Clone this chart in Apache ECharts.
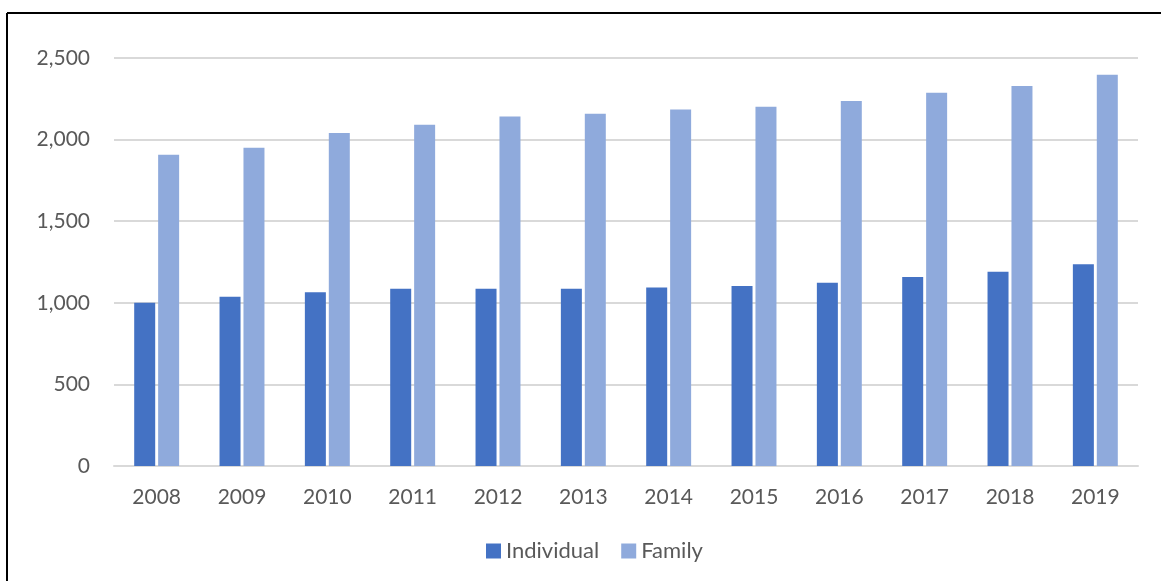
<!DOCTYPE html>
<html>
<head>
<meta charset="utf-8">
<script src="https://cdn.jsdelivr.net/npm/echarts@6/dist/echarts.min.js"></script>
<style>
  html, body { margin: 0; padding: 0; background: #fff; }
  #chart { width: 1161px; height: 581px; }
</style>
</head>
<body>
<div id="chart"></div>
<script>
// Annual amounts by coverage type
const years = ['2008', '2009', '2010', '2011', '2012', '2013', '2014', '2015', '2016', '2017', '2018', '2019'];
const individual = [1000, 1037, 1064, 1086, 1086, 1086, 1093, 1103, 1123, 1158, 1191, 1236];
const family = [1907, 1950, 2040, 2091, 2142, 2159, 2185, 2202, 2236, 2287, 2328, 2398];
const seriesNames = ['Individual', 'Family'];

const chart = echarts.init(document.getElementById('chart'));
const font = 'Lato, "Open Sans", sans-serif';

chart.setOption({
  animation: false,
  backgroundColor: '#ffffff',
  grid: { left: 114, right: 23, top: 58, bottom: 115 },
  legend: {
    data: seriesNames,
    bottom: 14,
    left: 481,
    itemWidth: 15,
    itemHeight: 15,
    itemGap: 22,
    icon: 'rect',
    textStyle: { color: '#595959', fontSize: 22, fontFamily: font }
  },
  xAxis: {
    type: 'category',
    data: years,
    axisLine: { lineStyle: { color: '#d9d9d9', width: 2 } },
    axisTick: { show: false },
    axisLabel: { color: '#595959', fontSize: 21, fontFamily: font, margin: 21 }
  },
  yAxis: {
    type: 'value',
    min: 0,
    max: 2500,
    interval: 500,
    axisLine: { show: false },
    axisTick: { show: false },
    splitLine: { lineStyle: { color: '#d9d9d9', width: 2 } },
    axisLabel: {
      color: '#595959', fontSize: 21, fontFamily: font, margin: 24,
      formatter: v => v.toLocaleString('en-US')
    }
  },
  series: [
    {
      name: seriesNames[0], type: 'bar', data: individual,
      barWidth: 21, barGap: '14%',
      itemStyle: { color: '#4472C4' }
    },
    {
      name: seriesNames[1], type: 'bar', data: family,
      barWidth: 21, barGap: '14%',
      itemStyle: { color: '#8FAADC' }
    }
  ],
  graphic: [
    { type: 'line', shape: { x1: 7, y1: 13, x2: 1161, y2: 13 }, style: { stroke: '#000', lineWidth: 2 } },
    { type: 'line', shape: { x1: 7, y1: 13, x2: 7, y2: 581 }, style: { stroke: '#000', lineWidth: 2 } }
  ]
});
</script>
</body>
</html>
